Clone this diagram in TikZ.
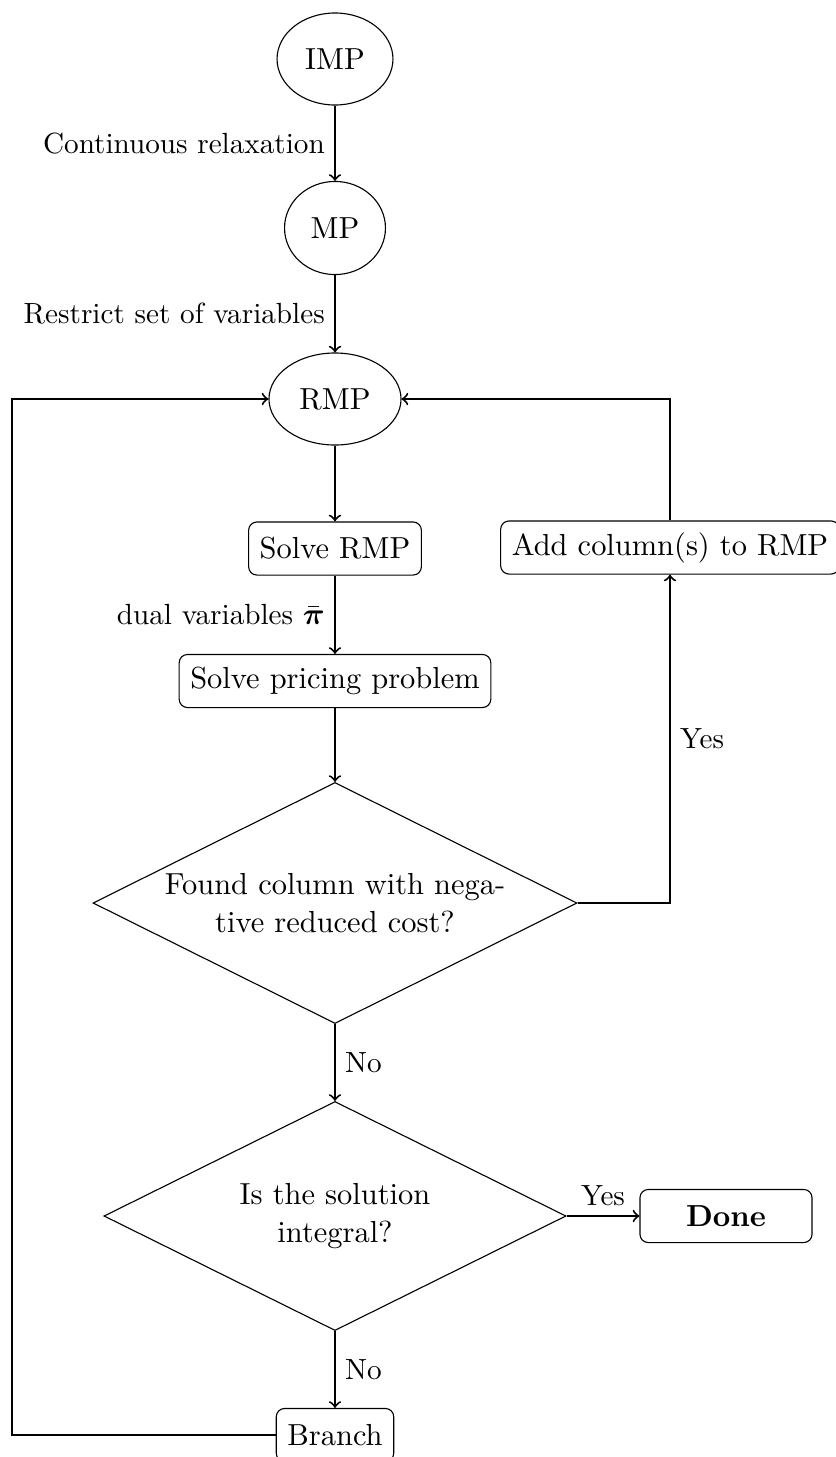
\documentclass[tikz,border=0pt]{standalone}
\usepackage{amsmath}
\usetikzlibrary{shapes.geometric}
\begin{document}
\begin{tikzpicture}[x=0.3597pt,y=-0.3597pt,
  nf/.style={font=\fontsize{10.95}{13.6}\selectfont},
  lab/.style={font=\fontsize{10.5}{12.6}\selectfont},
  ell/.style={ellipse,draw,line width=0.4pt,nf,inner sep=0pt},
  box/.style={rectangle,rounded corners=3pt,draw,line width=0.4pt,nf,inner xsep=4pt,inner ysep=3.65pt,minimum height=19.1pt},
  dia/.style={diamond,aspect=2,draw,line width=0.4pt,nf,inner sep=0pt,align=center},
  arr/.style={->,line width=0.7pt}]
\useasboundingbox (0,0) rectangle (836,1457);
\node[ell,minimum width=41.7pt,minimum height=33.1pt] (imp) at (335,59) {IMP};
\node[ell,minimum width=36.3pt,minimum height=33.5pt] (mp) at (335,228) {MP};
\node[ell,minimum width=47.5pt,minimum height=33.1pt] (rmp) at (335,399) {RMP};
\node[box] (srmp) at (335,548.5) {Solve RMP};
\node[box] (price) at (335,681) {Solve pricing problem};
\node[dia,minimum width=174.1pt,minimum height=86.7pt] (d1) at (335,903) {Found column with nega-\\tive reduced cost?};
\node[dia,minimum width=166.2pt,minimum height=82.4pt] (d2) at (335,1216) {Is the solution\\integral?};
\node[box,minimum width=61.9pt] (done) at (726,1216) {\textbf{Done}};
\node[box] (branch) at (335,1435) {Branch};
\node[box,minimum width=121.6pt] (add) at (670,547.5) {Add column(s) to RMP};
\coordinate (L) at (12,399);
\draw[arr] (imp) -- (mp) node[midway,left,lab] (l1) {Continuous relaxation};
\draw[arr] (mp) -- (rmp) node[midway,left,lab] (l2) {Restrict set of variables};
\draw[arr] (rmp) -- (srmp);
\draw[arr] (srmp) -- (price) node[midway,left,lab] (l3) {dual variables $\bar{\boldsymbol{\pi}}$};
\draw[arr] (price) -- (d1);
\draw[arr] (d1) -- (d2) node[midway,right,lab] (l4) {No};
\draw[arr] (d1.east) -| (add.south) node[pos=0.75,right,lab] (l5) {Yes};
\draw[arr] (add.north) |- (rmp.east);
\draw[arr] (d2.east) -- (done.west) node[midway,above,lab] (l6) {Yes};
\draw[arr] (d2) -- (branch) node[midway,right,lab] (l7) {No};
\draw[arr] (branch.west) -| (L) -- (rmp.west);
\end{tikzpicture}
\end{document}
